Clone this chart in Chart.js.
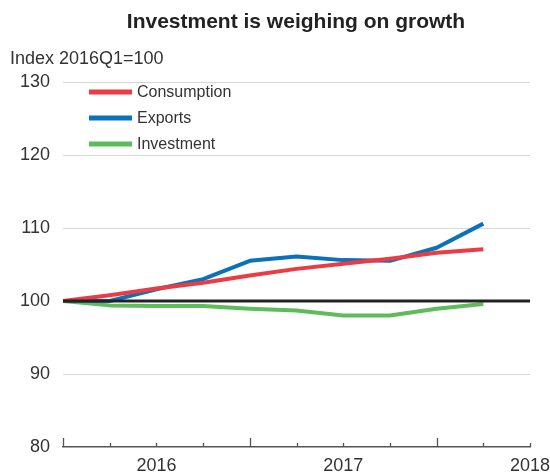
<!DOCTYPE html>
<html>
<head>
<meta charset="utf-8">
<script src="https://cdn.jsdelivr.net/npm/chart.js@4/dist/chart.umd.min.js"></script>
<style>
  html, body { margin: 0; padding: 0; background: #fff; }
  canvas { display: block; }
</style>
</head>
<body>
<canvas id="chart" width="550" height="473"></canvas>
<script>
// Quarterly index, 2016Q1 = 100
const quarters = ['2016Q1','2016Q2','2016Q3','2016Q4','2017Q1','2017Q2','2017Q3','2017Q4','2018Q1','2018Q2','2018Q3'];
const yearLabels = ['', '', '2016', '', '', '', '2017', '', '', '', '2018'];
const consumption = [100, 100.8, 101.7, 102.5, 103.5, 104.4, 105.1, 105.8, 106.6, 107.1, null];
const exportsIdx  = [100, 100.0, 101.6, 103.0, 105.5, 106.1, 105.6, 105.5, 107.3, 110.6, null];
const investment  = [100, 99.4, 99.3, 99.3, 98.95, 98.7, 98.0, 98.0, 98.95, 99.6, null];
const yTicks = [80, 90, 100, 110, 120, 130];

const FONT = "'Liberation Sans', Arial, Helvetica, sans-serif";
const TEXT = '#333333';

// Title, unit label, legend, baseline at 100 and quarter ticks
const decorations = {
  id: 'decorations',
  afterDatasetsDraw(chart) {
    const { ctx, chartArea, scales } = chart;
    const x = scales.x, y = scales.y;
    ctx.save();

    // baseline at 100
    const y100 = y.getPixelForValue(100);
    ctx.strokeStyle = '#222222';
    ctx.lineWidth = 3;
    ctx.beginPath();
    ctx.moveTo(chartArea.left, y100);
    ctx.lineTo(chartArea.right, y100);
    ctx.stroke();

    // quarter ticks rising from the x axis, taller at each year start
    const yb = chartArea.bottom;
    ctx.strokeStyle = '#555555';
    ctx.lineWidth = 1.3;
    quarters.forEach((q, i) => {
      const px = Math.round(x.getPixelForValue(i)) + 0.5;
      const len = (i % 4 === 0) ? 9 : 4;
      ctx.beginPath();
      ctx.moveTo(px, yb);
      ctx.lineTo(px, yb - len);
      ctx.stroke();
    });

    // legend
    ctx.font = '16px ' + FONT;
    ctx.textBaseline = 'middle';
    ctx.textAlign = 'left';
    const rows = [92, 118, 144];
    chart.data.datasets.forEach((ds, i) => {
      ctx.strokeStyle = ds.borderColor;
      ctx.lineWidth = 5;
      ctx.beginPath();
      ctx.moveTo(89, rows[i]);
      ctx.lineTo(132, rows[i]);
      ctx.stroke();
      ctx.fillStyle = TEXT;
      ctx.fillText(ds.label, 137, rows[i] + 1);
    });

    // title and unit
    ctx.fillStyle = '#222222';
    ctx.font = 'bold 21px ' + FONT;
    ctx.textAlign = 'center';
    ctx.fillText('Investment is weighing on growth', 296, 22);
    ctx.font = '18px ' + FONT;
    ctx.textAlign = 'left';
    ctx.fillStyle = TEXT;
    ctx.fillText('Index 2016Q1=100', 10, 59);
    ctx.restore();
  }
};

const lineStyle = { borderWidth: 4, pointRadius: 0, tension: 0, fill: false, borderCapStyle: 'butt', borderJoinStyle: 'round' };

new Chart(document.getElementById('chart'), {
  type: 'line',
  data: {
    labels: quarters,
    datasets: [
      { label: 'Consumption', data: consumption, borderColor: '#ec3b43', ...lineStyle },
      { label: 'Exports', data: exportsIdx, borderColor: '#0a72bb', ...lineStyle },
      { label: 'Investment', data: investment, borderColor: '#5fbb5b', ...lineStyle }
    ]
  },
  options: {
    responsive: false,
    animation: false,
    layout: { padding: { top: 82, left: 0, right: 20, bottom: 0 } },
    plugins: { legend: { display: false }, title: { display: false }, tooltip: { enabled: false } },
    scales: {
      x: {
        type: 'category',
        offset: false,
        grid: { display: false, drawTicks: false },
        border: { display: true, color: '#555555', width: 1.5 },
        ticks: {
          autoSkip: false,
          maxRotation: 0,
          padding: 8,
          color: TEXT,
          font: { size: 18, family: FONT },
          callback: (v, i) => yearLabels[i]
        },
        afterFit: s => { s.height = 26; s.paddingLeft = 0; s.paddingRight = 0; }
      },
      y: {
        min: 80,
        max: 130,
        afterBuildTicks: s => { s.ticks = yTicks.map(v => ({ value: v })); },
        grid: {
          drawTicks: false,
          color: c => (c.tick && (c.tick.value === 80 || c.tick.value === 100)) ? 'rgba(0,0,0,0)' : '#d6d6d6',
          lineWidth: 1
        },
        border: { display: false },
        ticks: { padding: 13, color: TEXT, font: { size: 18, family: FONT } },
        afterFit: s => { s.width = 63; s.paddingTop = 0; s.paddingBottom = 0; }
      }
    }
  },
  plugins: [decorations]
});
</script>
</body>
</html>
